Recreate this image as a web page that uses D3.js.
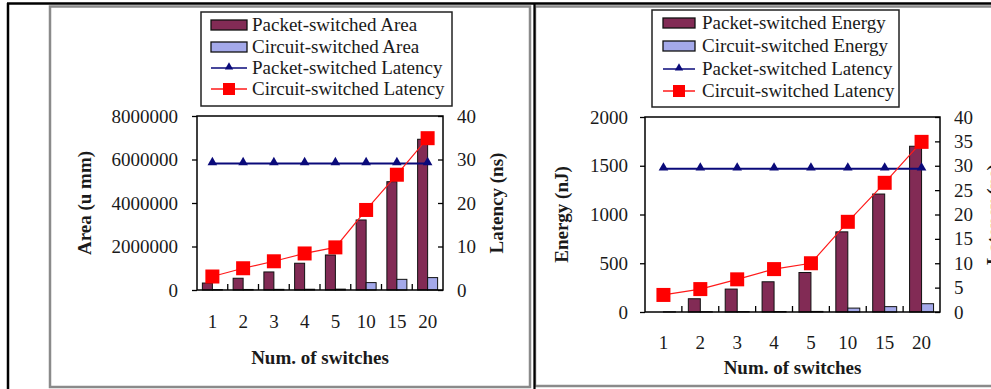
<!DOCTYPE html>
<html><head><meta charset="utf-8">
<script src="https://cdn.jsdelivr.net/npm/d3@7"></script>
<style>
html,body{margin:0;padding:0;background:#fff;}
svg{display:block;}
text{font-family:"Liberation Serif","Times New Roman",serif;fill:#1a1a1a;}
</style></head>
<body>
<svg id="chart" width="991" height="389"></svg>
<script>
// ---- data ----
const categories = ["1", "2", "3", "4", "5", "10", "15", "20"];
const areaPacket = [320000, 540000, 830000, 1230000, 1610000, 3220000, 4980000, 6930000];
const areaCircuit = [20000, 25000, 30000, 35000, 40000, 340000, 490000, 570000];
const latPacketA = [29.1, 29.1, 29.1, 29.1, 29.1, 29.1, 29.1, 29.1];
const latCircuitA = [3.1, 5.0, 6.6, 8.4, 9.8, 18.4, 26.5, 34.9];
const energyPacket = [0, 136, 235, 310, 405, 822, 1210, 1700];
const energyCircuit = [2, 3, 4, 5, 6, 40, 55, 85];
const latPacketE = [29.4, 29.4, 29.4, 29.4, 29.4, 29.4, 29.4, 29.4];
const latCircuitE = [3.5, 4.7, 6.7, 8.8, 10.0, 18.5, 26.5, 34.9];
const areaTicks = [0, 2000000, 4000000, 6000000, 8000000];
const latTicksA = [0, 10, 20, 30, 40];
const energyTicks = [0, 500, 1000, 1500, 2000];
const latTicksE = [0, 5, 10, 15, 20, 25, 30, 35, 40];
const legendA = ["Packet-switched Area", "Circuit-switched Area", "Packet-switched Latency", "Circuit-switched Latency"];
const legendE = ["Packet-switched Energy", "Circuit-switched Energy", "Packet-switched Latency", "Circuit-switched Latency"];

const C_PACKET = "#822b55", C_CIRCUIT = "#a4a9ea", C_NAVY = "#0a0a7a", C_RED = "#ff1a1a";
const svg = d3.select("#chart");

// ---- frames ----
svg.append("rect").attr("x", 50).attr("y", 6.5).attr("width", 480).attr("height", 380.5)
  .attr("fill", "none").attr("stroke", "#8a8a8a").attr("stroke-width", 2.5);
svg.append("rect").attr("x", 535).attr("y", 6.5).attr("width", 470).attr("height", 379.5)
  .attr("fill", "none").attr("stroke", "#8a8a8a").attr("stroke-width", 2.5);
svg.append("line").attr("x1", 7).attr("x2", 991).attr("y1", 3.5).attr("y2", 3.5).attr("stroke", "#000").attr("stroke-width", 2.5);
svg.append("line").attr("x1", 8).attr("x2", 8).attr("y1", 3).attr("y2", 389).attr("stroke", "#000").attr("stroke-width", 2.5);
svg.append("line").attr("x1", 534.5).attr("x2", 534.5).attr("y1", 3).attr("y2", 389).attr("stroke", "#000").attr("stroke-width", 2.2);

function panel(o) {
  const g = svg.append("g");
  const x = d3.scaleBand().domain(categories).range([o.left, o.right]).padding(0);
  const yL = d3.scaleLinear().domain(o.yDomain).range([o.bottom, o.top]);
  const yR = d3.scaleLinear().domain([0, 40]).range([o.bottom, o.top]);
  const bw = x.bandwidth() * 0.325;
  const cx = c => x(c) + x.bandwidth() / 2;

  // bars
  g.selectAll(".bp").data(o.packet).join("rect")
    .attr("x", (d, i) => cx(categories[i]) - bw).attr("width", bw)
    .attr("y", d => yL(d)).attr("height", d => o.bottom - yL(d))
    .attr("fill", C_PACKET).attr("stroke", "#111").attr("stroke-width", 1);
  g.selectAll(".bc").data(o.circuit).join("rect")
    .attr("x", (d, i) => cx(categories[i])).attr("width", bw)
    .attr("y", d => yL(d)).attr("height", d => o.bottom - yL(d))
    .attr("fill", C_CIRCUIT).attr("stroke", "#111").attr("stroke-width", 1);

  // plot box
  g.append("rect").attr("x", o.left).attr("y", o.top).attr("width", o.right - o.left).attr("height", o.bottom - o.top)
    .attr("fill", "none").attr("stroke", "#000").attr("stroke-width", 1.5);

  // x boundary ticks (inward)
  g.selectAll(".xt").data(categories.slice(1)).join("line")
    .attr("x1", d => x(d)).attr("x2", d => x(d)).attr("y1", o.bottom).attr("y2", o.bottom - 6)
    .attr("stroke", "#000").attr("stroke-width", 1.3);

  // axes
  const ax = g.append("g").attr("transform", `translate(0,${o.bottom})`)
    .call(d3.axisBottom(x).tickSize(0).tickPadding(o.xPad));
  const al = g.append("g").attr("transform", `translate(${o.left},0)`)
    .call(d3.axisLeft(yL).tickValues(o.yTicks).tickSize(5).tickPadding(o.lPad).tickFormat(d3.format("d")));
  const ar = g.append("g").attr("transform", `translate(${o.right},0)`)
    .call(d3.axisRight(yR).tickValues(o.rTicks).tickSize(-5).tickPadding(o.rPad).tickFormat(d3.format("d")));
  [ax, al, ar].forEach(a => {
    a.select(".domain").remove();
    a.selectAll("line").attr("stroke", "#000").attr("stroke-width", 1.3);
    a.selectAll("text").attr("font-size", 19).attr("font-family", '"Liberation Serif",serif').attr("fill", "#1a1a1a");
  });

  // lines
  const lineP = d3.line().x((d, i) => cx(categories[i])).y(d => yR(d));
  g.append("path").attr("d", lineP(o.latP)).attr("fill", "none").attr("stroke", C_NAVY).attr("stroke-width", 2);
  g.append("path").attr("d", lineP(o.latC)).attr("fill", "none").attr("stroke", C_RED).attr("stroke-width", 1.2);
  const tri = d3.symbol().type(d3.symbolTriangle).size(40);
  g.selectAll(".tri").data(o.latP).join("path")
    .attr("d", tri).attr("transform", (d, i) => `translate(${cx(categories[i])},${yR(d) - 1})`)
    .attr("fill", C_NAVY);
  const sq = 14;
  g.selectAll(".sq").data(o.latC).join("rect")
    .attr("x", (d, i) => cx(categories[i]) - sq / 2).attr("y", d => yR(d) - sq / 2)
    .attr("width", sq).attr("height", sq).attr("fill", "#ff0000");

  // titles
  g.append("text").attr("x", (o.left + o.right) / 2).attr("y", o.xTitleY).attr("text-anchor", "middle")
    .attr("font-size", 19).attr("font-weight", "bold").text("Num. of switches");
  g.append("text").attr("transform", `translate(${o.lTitleX},${(o.top + o.bottom) / 2}) rotate(-90)`)
    .attr("text-anchor", "middle").attr("font-size", 19).attr("font-weight", "bold").text(o.lTitle);
  g.append("text").attr("transform", `translate(${o.rTitleX},${(o.top + o.bottom) / 2}) rotate(-90)`)
    .attr("text-anchor", "middle").attr("font-size", 19).attr("font-weight", "bold").text("Latency (ns)");

  // legend
  const L = o.legend;
  g.append("rect").attr("x", L.x).attr("y", L.y).attr("width", L.w).attr("height", L.h)
    .attr("fill", "#fff").attr("stroke", "#222").attr("stroke-width", 1.5);
  L.labels.forEach((lab, i) => {
    const yy = L.rows[i];
    if (i < 2) {
      g.append("rect").attr("x", L.sx).attr("y", yy - 5).attr("width", L.sw).attr("height", 10)
        .attr("fill", i === 0 ? C_PACKET : C_CIRCUIT).attr("stroke", "#111").attr("stroke-width", 1.3);
    } else if (i === 2) {
      g.append("line").attr("x1", L.sx).attr("x2", L.sx + L.sw).attr("y1", yy).attr("y2", yy)
        .attr("stroke", C_NAVY).attr("stroke-width", 1.5);
      g.append("path").attr("d", d3.symbol().type(d3.symbolTriangle).size(30))
        .attr("transform", `translate(${L.sx + L.sw / 2},${yy - 1})`).attr("fill", C_NAVY);
    } else {
      g.append("line").attr("x1", L.sx).attr("x2", L.sx + L.sw).attr("y1", yy).attr("y2", yy)
        .attr("stroke", C_RED).attr("stroke-width", 1.5);
      g.append("rect").attr("x", L.sx + L.sw / 2 - 6).attr("y", yy - 6).attr("width", 12).attr("height", 12)
        .attr("fill", "#ff0000");
    }
    g.append("text").attr("x", L.tx).attr("y", yy + 6).attr("font-size", 19).text(lab);
  });
}

panel({
  left: 197, right: 443, top: 116, bottom: 290,
  yDomain: [0, 8000000], yTicks: areaTicks, rTicks: latTicksA,
  packet: areaPacket, circuit: areaCircuit, latP: latPacketA, latC: latCircuitA,
  xPad: 25, lPad: 14, rPad: 14,
  xTitleY: 364, lTitle: "Area (u mm)", lTitleX: 91, rTitleX: 503,
  legend: { x: 201, y: 12, w: 251, h: 94, sx: 211, sw: 36, tx: 252, rows: [25, 47, 68, 89], labels: legendA }
});
panel({
  left: 645, right: 940, top: 117, bottom: 312,
  yDomain: [0, 2000], yTicks: energyTicks, rTicks: latTicksE,
  packet: energyPacket, circuit: energyCircuit, latP: latPacketE, latC: latCircuitE,
  xPad: 24, lPad: 12, rPad: 14,
  xTitleY: 374, lTitle: "Energy (nJ)", lTitleX: 568, rTitleX: 1000,
  legend: { x: 652, y: 10, w: 247, h: 97, sx: 663, sw: 32, tx: 702, rows: [23, 46, 69, 91], labels: legendE }
});
</script>
</body></html>
